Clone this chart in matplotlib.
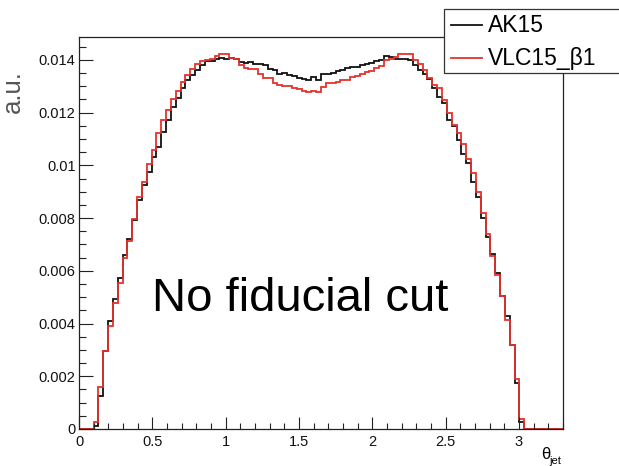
import numpy as np
import matplotlib
matplotlib.use("Agg")
import matplotlib.pyplot as plt
from matplotlib.ticker import FixedLocator, MultipleLocator, FixedFormatter
from matplotlib.patches import Rectangle
from matplotlib.lines import Line2D

# Binning of the theta_jet histogram: 100 bins on [0, 3.3]
n_bins = 100
theta_min, theta_max = 0.0, 3.3
first_bin = 3  # bins below this and above the last filled bin are empty

# Normalised bin contents (a.u.), bins 3..91
ak15_vals = [
    0.00012, 0.00127, 0.00294, 0.00411, 0.00492, 0.00572, 0.00660, 0.00720,
    0.00793, 0.00869, 0.00924, 0.00976, 0.01033, 0.01070, 0.01127, 0.01172,
    0.01220, 0.01254, 0.01292, 0.01323, 0.01342, 0.01361, 0.01380, 0.01395,
    0.01396, 0.01402, 0.01409, 0.01405, 0.01409, 0.01402, 0.01393, 0.01390,
    0.01393, 0.01386, 0.01386, 0.01380, 0.01367, 0.01361, 0.01348, 0.01350,
    0.01342, 0.01338, 0.01330, 0.01328, 0.01323, 0.01335, 0.01323, 0.01345,
    0.01348, 0.01350, 0.01358, 0.01361, 0.01370, 0.01373, 0.01375, 0.01380,
    0.01386, 0.01388, 0.01395, 0.01399, 0.01414, 0.01412, 0.01403, 0.01403,
    0.01403, 0.01400, 0.01380, 0.01361, 0.01346, 0.01329, 0.01292, 0.01260,
    0.01235, 0.01172, 0.01149, 0.01096, 0.01045, 0.01008, 0.00938, 0.00881,
    0.00799, 0.00727, 0.00664, 0.00591, 0.00505, 0.00429, 0.00317, 0.00174,
    0.00026,
]
vlc15_vals = [
    0.00025, 0.00160, 0.00294, 0.00390, 0.00477, 0.00553, 0.00648, 0.00714,
    0.00797, 0.00881, 0.00938, 0.01005, 0.01058, 0.01121, 0.01172, 0.01210,
    0.01250, 0.01283, 0.01317, 0.01342, 0.01364, 0.01383, 0.01395, 0.01399,
    0.01405, 0.01414, 0.01424, 0.01422, 0.01409, 0.01402, 0.01380, 0.01370,
    0.01367, 0.01364, 0.01346, 0.01333, 0.01330, 0.01311, 0.01304, 0.01302,
    0.01300, 0.01294, 0.01290, 0.01281, 0.01278, 0.01281, 0.01280, 0.01298,
    0.01311, 0.01311, 0.01315, 0.01323, 0.01325, 0.01336, 0.01338, 0.01345,
    0.01354, 0.01358, 0.01370, 0.01378, 0.01399, 0.01405, 0.01412, 0.01424,
    0.01424, 0.01422, 0.01400, 0.01385, 0.01360, 0.01330, 0.01304, 0.01292,
    0.01247, 0.01197, 0.01153, 0.01121, 0.01083, 0.01023, 0.00970, 0.00900,
    0.00820, 0.00740, 0.00656, 0.00585, 0.00505, 0.00413, 0.00317, 0.00190,
    0.00039,
]

series_labels = ["AK15", "VLC15_β1"]
x_ticks = [0, 0.5, 1, 1.5, 2, 2.5, 3]
x_tick_labels = ["0", "0.5", "1", "1.5", "2", "2.5", "3"]
y_ticks = [0, 0.002, 0.004, 0.006, 0.008, 0.010, 0.012, 0.014]
y_tick_labels = ["0", "0.002", "0.004", "0.006", "0.008", "0.01", "0.012", "0.014"]
y_max = 0.01487
annotation = "No fiducial cut"


def full_hist(vals):
    h = np.zeros(n_bins)
    h[first_bin:first_bin + len(vals)] = vals
    return h


edges = np.linspace(theta_min, theta_max, n_bins + 1)
h_ak = full_hist(ak15_vals)
h_vlc = full_hist(vlc15_vals)

plt.rcParams["font.family"] = ["Liberation Sans", "DejaVu Sans"]

W, H = 619, 466
fig = plt.figure(figsize=(W / 100, H / 100), dpi=100)
ax = fig.add_axes([79 / W, 1 - 429 / H, 484 / W, 392 / H])

black = "#111111"
red = "#e3332c"
ax.stairs(h_ak, edges, color=black, lw=1.3, baseline=0)
ax.stairs(h_vlc, edges, color=red, lw=1.3, baseline=0)

ax.set_xlim(theta_min, theta_max)
ax.set_ylim(0, y_max)

ax.xaxis.set_major_locator(FixedLocator(x_ticks))
ax.xaxis.set_major_formatter(FixedFormatter(x_tick_labels))
ax.xaxis.set_minor_locator(MultipleLocator(0.1))
ax.yaxis.set_major_locator(FixedLocator(y_ticks))
ax.yaxis.set_major_formatter(FixedFormatter(y_tick_labels))
ax.yaxis.set_minor_locator(MultipleLocator(0.0005))

ax.tick_params(axis="both", which="both", direction="in", top=False, right=False,
               width=0.8, colors="#222222", labelcolor="#111111")
ax.tick_params(axis="y", which="major", length=10.3, pad=2.5, labelsize=10.5)
ax.tick_params(axis="y", which="minor", length=5.1)
ax.tick_params(axis="x", which="major", length=8.5, pad=4, labelsize=10.5)
ax.tick_params(axis="x", which="minor", length=4.2)
for s in ax.spines.values():
    s.set_linewidth(0.9)
    s.set_color("#222222")

# annotation inside the frame (position given in axes fractions)
ax.text((152 - 79) / 484, (429 - 311) / 392, annotation, transform=ax.transAxes,
        fontsize=34, ha="left", va="baseline", color="black")

# axis titles
fig.text(12.5 / W, 1 - 91.5 / H, "a.u.", rotation=90, fontsize=18.5,
         color="#555555", ha="center", va="center")
fig.text(541.5 / W, 1 - 459 / H, "θ", fontsize=12, ha="left", va="baseline")
fig.text(549 / W, 1 - 464 / H, "jet", fontsize=8, ha="left", va="baseline")

# legend box reaching past the right edge of the canvas
fig.patches.append(Rectangle((444 / W, 1 - 73 / H), 0.4, 64 / H,
                             transform=fig.transFigure, facecolor="white",
                             edgecolor="#333333", lw=0.9, zorder=5))
for yc, col, lab in [(25, black, series_labels[0]), (58, red, series_labels[1])]:
    fig.lines.append(Line2D([451 / W, 482 / W], [1 - yc / H, 1 - yc / H],
                            transform=fig.transFigure, color=col, lw=1.3, zorder=6))
    fig.text(488 / W, 1 - yc / H, lab, fontsize=16.5, ha="left", va="center",
             color="black", zorder=6)

fig.savefig("out.png", dpi=100)
